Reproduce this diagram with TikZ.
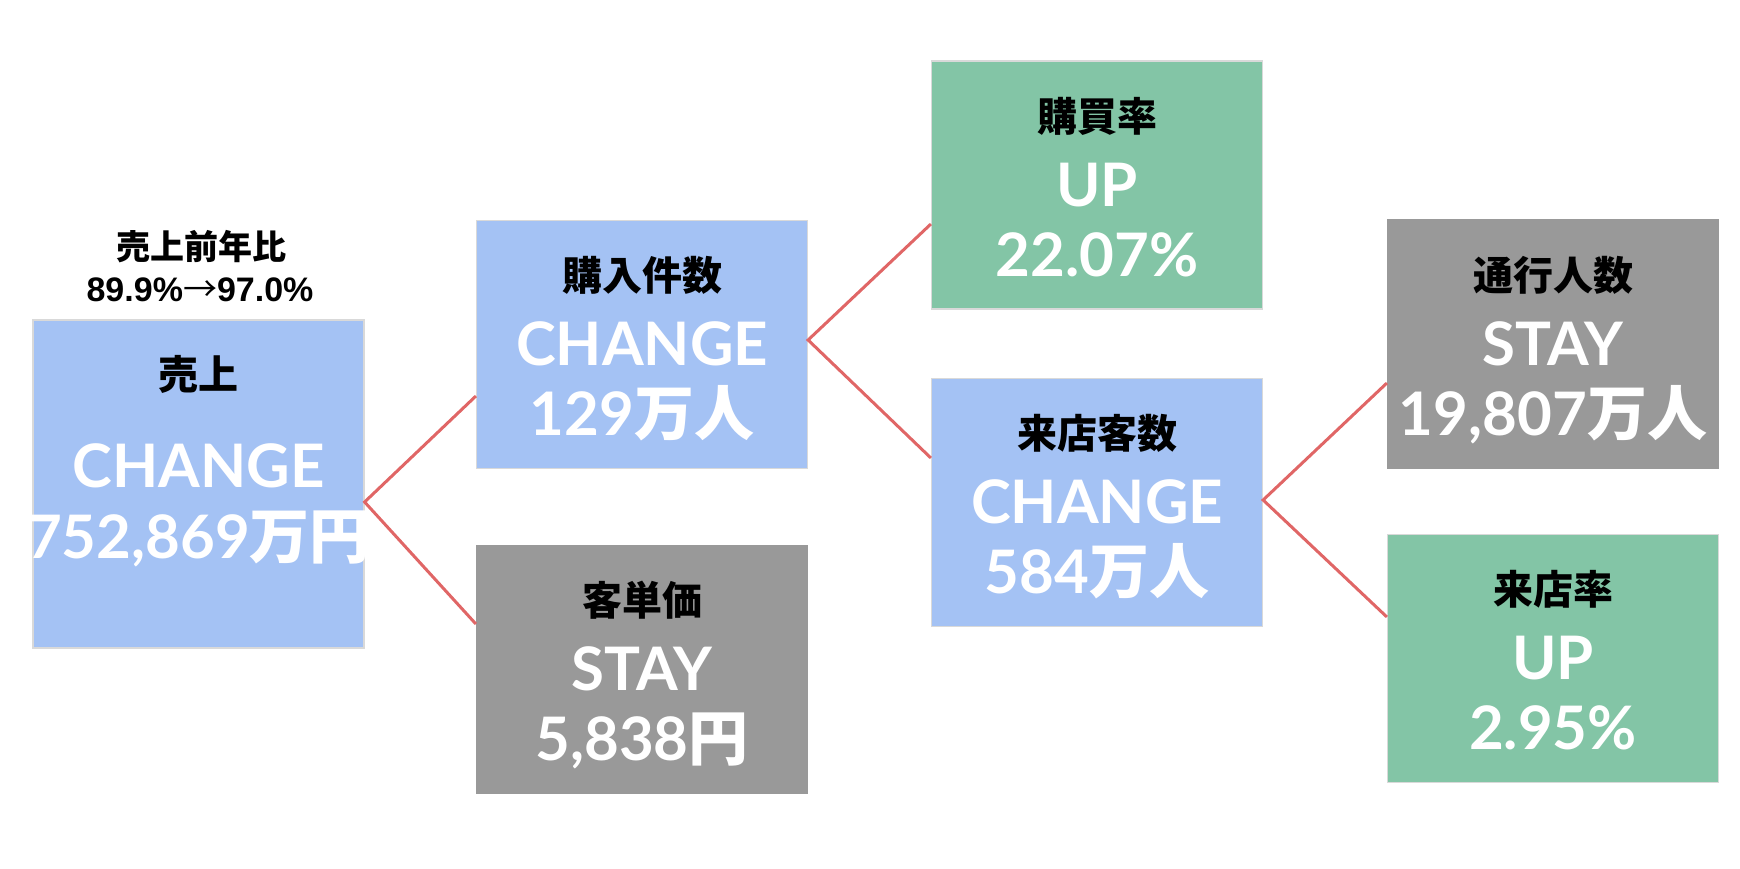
\documentclass[tikz,border=0pt]{standalone}
\usepackage{fontspec}
\usepackage{tikz}
\newfontfamily\jpfont{Noto Sans CJK JP}
\newfontfamily\latofont{Lato}
\newfontfamily\arialfont{Liberation Sans}
\definecolor{kpiblue}{HTML}{A4C2F4}
\definecolor{kpigreen}{HTML}{83C5A6}
\definecolor{kpigray}{HTML}{999999}
\definecolor{kpiedge}{HTML}{D9D9D9}
\definecolor{linkred}{HTML}{E06666}
\tikzset{
  kpibox/.style={rectangle, minimum width=165.5pt, minimum height=124pt, inner sep=0pt, line width=0.6pt},
  bluebox/.style={kpibox, fill=kpiblue, draw=kpiedge},
  greenbox/.style={kpibox, fill=kpigreen, draw=kpiedge},
  graybox/.style={kpibox, fill=kpigray, draw=kpigray},
  kpilabel/.style={anchor=base, font=\jpfont\bfseries\fontsize{20}{24}\selectfont},
  kpivalue/.style={anchor=base, text=white, font=\latofont\bfseries\fontsize{30}{36}\selectfont},
  link/.style={draw=linkred, line width=1.5pt}
}
\begin{document}
\begin{tikzpicture}[x=0.5pt,y=-0.5pt] %[scale=1.0]

\useasboundingbox (0,0) rectangle (1740,868);

\node[anchor=base, font=\jpfont\bfseries\fontsize{17}{20}\selectfont] (hdr-title) at (201,259) {売上前年比};
\node[anchor=base, font=\arialfont\bfseries\fontsize{17}{20}\selectfont] (hdr-ratio) at (200,301) {89.9\%{\jpfont\mdseries →}97.0\%};

\node[bluebox, minimum height=164pt] (uri) at (198.5,484) {};
\node[kpilabel] (uri-lab) at (198.5,389) {売上};
\node[kpivalue] (uri-main) at (198.5,487) {CHANGE};
\node[kpivalue] (uri-val) at (198.5,558) {752,869{\jpfont 万円}};

\foreach \nm/\x/\y/\sty/\lab/\main/\val in {
  kounyu/642/344.5/bluebox/購入件数/CHANGE/{129{\jpfont 万人}},
  tanka/642/669.5/graybox/客単価/STAY/{5,838{\jpfont 円}},
  kobai/1097/185/greenbox/購買率/UP/{22.07\%},
  raiten/1097/502.5/bluebox/来店客数/CHANGE/{584{\jpfont 万人}},
  tsuko/1553/344/graybox/通行人数/STAY/{19,807{\jpfont 万人}},
  ritsu/1553/658.5/greenbox/来店率/UP/{2.95\%}} {
\node[\sty] (\nm) at (\x,\y) {};
\node[kpilabel] (\nm-lab) at (\x,\y-54) {\lab};
\node[kpivalue] (\nm-main) at (\x,\y+21) {\main};
\node[kpivalue] (\nm-val) at (\x,\y+91) {\val};
}

\draw[link] ([yshift=-25.75pt]kounyu.west) -- ([yshift=-9pt]uri.east) -- ([yshift=22.75pt]tanka.west);
\draw[link] ([yshift=-19.5pt]kobai.west) -- ([yshift=2.25pt]kounyu.east) -- ([yshift=22.25pt]raiten.west);
\draw[link] ([yshift=-19.5pt]tsuko.west) -- ([yshift=1.25pt]raiten.east) -- ([yshift=20.75pt]ritsu.west);

\end{tikzpicture}
\end{document}
